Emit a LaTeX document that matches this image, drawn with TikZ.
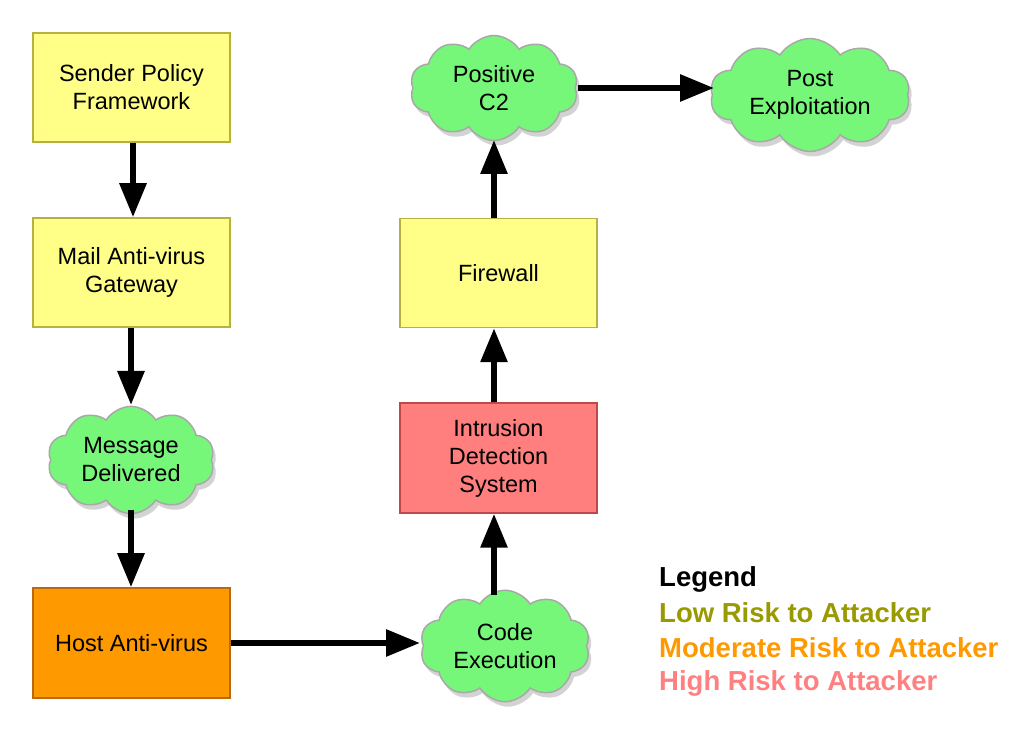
\documentclass[tikz,border=0pt]{standalone}
\usepackage{fontspec}
\setmainfont{Liberation Sans}
\usetikzlibrary{shapes.symbols,arrows.meta,shadows}
\definecolor{yfill}{HTML}{FFFF88}
\definecolor{ydraw}{HTML}{B8B040}
\definecolor{ofill}{HTML}{FF9900}
\definecolor{odraw}{HTML}{B86A10}
\definecolor{rfill}{HTML}{FF7F7F}
\definecolor{rdraw}{HTML}{C04848}
\definecolor{gfill}{HTML}{77F77A}
\definecolor{gdraw}{HTML}{A8A8A8}
\definecolor{lowc}{HTML}{999900}
\definecolor{modc}{HTML}{FF9900}
\definecolor{highc}{HTML}{FF8080}
\tikzset{
  x=1pt,y=1pt,
  box/.style={rectangle,draw=ydraw,fill=yfill,line width=1.5pt,minimum width=197pt,minimum height=109pt,align=center,font=\fontsize{23.5}{28}\selectfont,inner sep=0pt},
  cloudnode/.style={cloud,cloud puffs=10,cloud puff arc=115,draw=gdraw,fill=gfill,line width=1.5pt,align=center,font=\fontsize{23.5}{28}\selectfont,inner sep=0pt,aspect=1.6,
    drop shadow={opacity=0.35,shadow xshift=3pt,shadow yshift=-5pt}},
  flow/.style={line width=6pt,-{Triangle[length=34pt,width=26pt]}},
  legend/.style={anchor=west,font=\fontsize{27.5}{28}\selectfont\bfseries,inner sep=0pt}
}
\begin{document}
\begin{tikzpicture}
\useasboundingbox (0,0) rectangle (1024,746);
\node[box] (spf) at (131.5,658.5) {Sender Policy\\Framework};
\node[box] (mail) at (131.5,473.5) {Mail Anti-virus\\Gateway};
\node[cloudnode,minimum width=167pt,minimum height=104pt] (msg) at (131,286) {Message\\Delivered};
\node[box,draw=odraw,fill=ofill,minimum height=110pt] (host) at (131.5,103) {Host Anti-virus};
\node[cloudnode,minimum width=170pt,minimum height=102pt] (code) at (505,100) {Code\\Execution};
\node[box,draw=rdraw,fill=rfill,minimum height=110pt] (ids) at (498.5,288) {Intrusion\\Detection\\System};
\node[box] (fw) at (498.5,473) {Firewall};
\node[cloudnode,minimum width=168pt,minimum height=105pt] (c2) at (494,658) {Positive\\C2};
\node[cloudnode,aspect=1.95,minimum width=200pt,minimum height=103pt] (post) at (810,651) {Post\\Exploitation};

\draw[flow] (spf.south -| 133,0) -- (mail.north -| 133,0);
\draw[flow] (mail.south -| 131,0) -- (131,341);
\draw[flow] (131,236) -- (host.north -| 131,0);
\draw[flow] (host.east |- 0,103) -- (420,103);
\draw[flow] (494,151) -- (ids.south -| 494,0);
\draw[flow] (ids.north -| 494,0) -- (fw.south -| 494,0);
\draw[flow] (fw.north -| 494,0) -- (494,606);
\draw[flow] (578,658) -- (714,658);

\node[legend] (lg) at (659,167) {Legend};
\node[legend,text=lowc] (lo) at (659,133) {Low Risk to Attacker};
\node[legend,text=modc] (mo) at (659,98) {Moderate Risk to Attacker};
\node[legend,text=highc] (hi) at (659,63) {High Risk to Attacker};
\end{tikzpicture}
\end{document}
